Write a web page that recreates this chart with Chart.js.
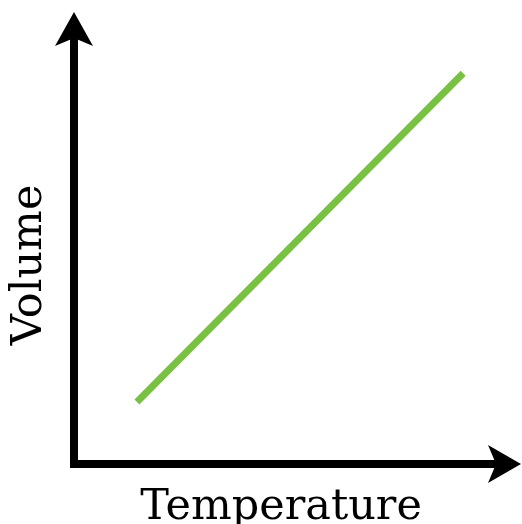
<!DOCTYPE html>
<html>
<head>
<meta charset="utf-8">
<script src="https://cdn.jsdelivr.net/npm/chart.js@4/dist/chart.umd.min.js"></script>
<style>
  html, body { margin: 0; padding: 0; background: #fff; }
  #wrap { width: 522px; height: 524px; }
</style>
</head>
<body>
<div id="wrap"><canvas id="gasLaw"></canvas></div>
<script>
// data (axis units 0..100, no ticks shown)
var temperature = [15.2, 94.0];
var volume = [15.6, 98.2];
var xTitle = 'Temperature';
var yTitle = 'Volume';

var points = temperature.map(function(t, i) {
    return { x: t, y: volume[i] };
});

// arrowheads at the ends of both axes
var axisArrows = {
    id: 'axisArrows',
    afterDraw: function(chart) {
        var ctx = chart.ctx;
        var a = chart.chartArea;
        var left = a.left, bottom = a.bottom;
        ctx.save();
        ctx.fillStyle = '#000';
        ctx.strokeStyle = '#000';
        ctx.lineWidth = 8;
        // extend the axis lines
        ctx.beginPath();
        ctx.moveTo(left, a.top + 1);
        ctx.lineTo(left, 38);
        ctx.moveTo(a.right - 1, bottom);
        ctx.lineTo(496, bottom);
        ctx.stroke();
        // up arrow
        ctx.beginPath();
        ctx.moveTo(left, 12);
        ctx.lineTo(left + 19, 46);
        ctx.lineTo(left, 38);
        ctx.lineTo(left - 19, 46);
        ctx.closePath();
        ctx.fill();
        // right arrow
        ctx.beginPath();
        ctx.moveTo(521, bottom);
        ctx.lineTo(488, bottom - 19);
        ctx.lineTo(496, bottom);
        ctx.lineTo(488, bottom + 19);
        ctx.closePath();
        ctx.fill();
        ctx.restore();
    }
};

var yFont = { family: "'DejaVu Serif', serif", size: 43, lineHeight: 1 };
var xFont = { family: "'DejaVu Serif', serif", size: 43, lineHeight: 0.75 };

var chrt = document.getElementById('gasLaw').getContext('2d');
var config = {
    type: 'line',
    data: {
        datasets: [{
            data: points,
            borderColor: '#79C143',
            borderWidth: 7,
            borderCapStyle: 'butt',
            pointRadius: 0,
            fill: false
        }]
    },
    options: {
        responsive: true,
        maintainAspectRatio: false,
        animation: false,
        layout: { padding: { top: 66, right: 34, left: 8, bottom: 0 } },
        plugins: {
            legend: { display: false },
            tooltip: { enabled: false }
        },
        scales: {
            x: {
                type: 'linear',
                min: 0,
                max: 100,
                grid: { display: false, drawTicks: false },
                ticks: { display: false },
                border: { display: true, color: '#000', width: 8 },
                title: {
                    display: true,
                    text: xTitle,
                    color: '#000',
                    font: xFont,
                    padding: { top: 27.75, bottom: 0 }
                }
            },
            y: {
                type: 'linear',
                min: 0,
                max: 100,
                grid: { display: false, drawTicks: false },
                ticks: { display: false },
                border: { display: true, color: '#000', width: 8 },
                title: {
                    display: true,
                    text: yTitle,
                    color: '#000',
                    font: yFont,
                    padding: { top: 0, bottom: 23 }
                }
            }
        }
    },
    plugins: [axisArrows]
};

var gasLawChart = new Chart(chrt, config);
</script>
</body>
</html>
